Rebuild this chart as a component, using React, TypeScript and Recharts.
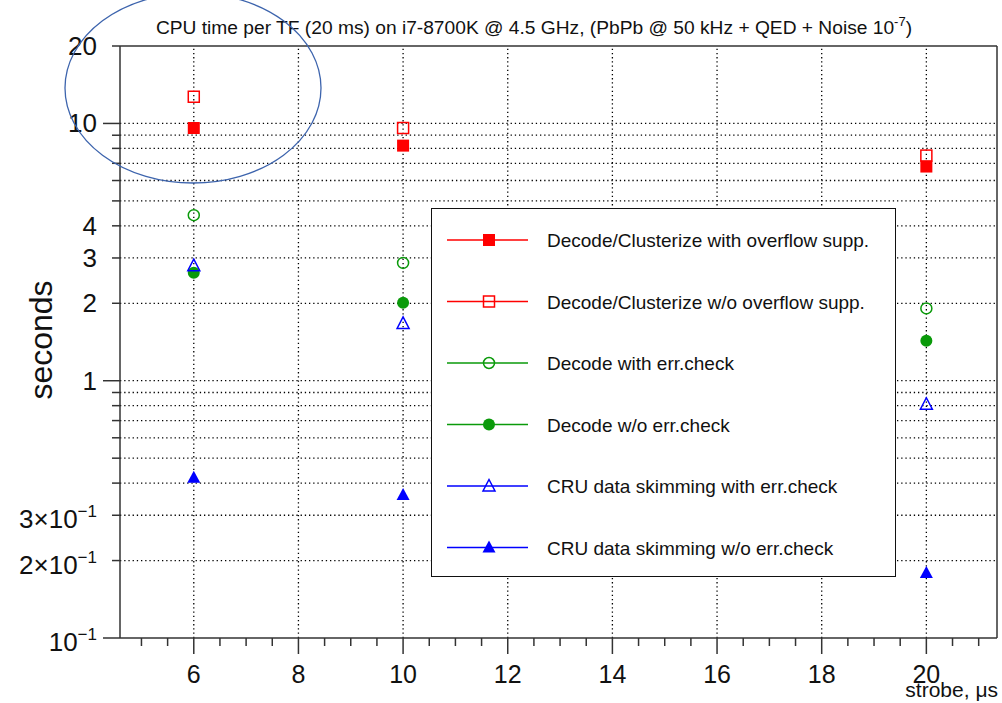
import React from "react";
import { ScatterChart, Scatter, XAxis, YAxis, ReferenceLine, Legend } from "recharts";

// strobe values (us) and CPU time (s)
const strobe = [6, 10, 20];
const clusterOvfl = [9.6, 8.2, 6.8];
const clusterNoOvfl = [12.7, 9.6, 7.5];
const decodeErr = [4.4, 2.87, 1.91];
const decodeNoErr = [2.63, 2.01, 1.43];
const cruErr = [2.8, 1.67, 0.81];
const cruNoErr = [0.42, 0.36, 0.179];

const xMajor = [6, 8, 10, 12, 14, 16, 18, 20];
const xTicks = [5, 5.5, 6, 6.5, 7, 7.5, 8, 8.5, 9, 9.5, 10, 10.5, 11, 11.5, 12, 12.5, 13, 13.5, 14, 14.5, 15, 15.5, 16, 16.5, 17, 17.5, 18, 18.5, 19, 19.5, 20, 20.5, 21];
const yTicks = [0.1, 0.2, 0.3, 0.4, 0.5, 0.6, 0.7, 0.8, 0.9, 1, 2, 3, 4, 5, 6, 7, 8, 9, 10, 20];
const yMajor = [0.1, 1, 10];
const yGrid = [0.2, 0.3, 0.4, 0.5, 0.6, 0.7, 0.8, 0.9, 1, 2, 3, 4, 5, 6, 7, 8, 9, 10];
const yLabels: Record<string, [string, string?]> = {
  "20": ["20"],
  "10": ["10"],
  "4": ["4"],
  "3": ["3"],
  "2": ["2"],
  "1": ["1"],
  "0.3": ["3\u00d710", "\u22121"],
  "0.2": ["2\u00d710", "\u22121"],
  "0.1": ["10", "\u22121"],
};

const RED = "#ff0000";
const GREEN = "#0a9a0a";
const BLUE = "#0000ff";
const AXIS = "#333";

const series = [
  { name: "Decode/Clusterize with overflow supp.", values: clusterOvfl, color: RED, kind: "square" },
  { name: "Decode/Clusterize w/o overflow supp.", values: clusterNoOvfl, color: RED, kind: "squareOpen" },
  { name: "Decode with err.check", values: decodeErr, color: GREEN, kind: "circleOpen" },
  { name: "Decode w/o err.check", values: decodeNoErr, color: GREEN, kind: "circle" },
  { name: "CRU data skimming with err.check", values: cruErr, color: BLUE, kind: "triangleOpen" },
  { name: "CRU data skimming w/o err.check", values: cruNoErr, color: BLUE, kind: "triangle" },
];

function Marker({ kind, color, cx, cy }: { kind: string; color: string; cx: number; cy: number }) {
  switch (kind) {
    case "square":
      return <rect x={cx - 6} y={cy - 6} width={12} height={12} fill={color} />;
    case "squareOpen":
      return <rect x={cx - 5.5} y={cy - 5.5} width={11} height={11} fill="none" stroke={color} strokeWidth={1.5} />;
    case "circle":
      return <circle cx={cx} cy={cy} r={6} fill={color} />;
    case "circleOpen":
      return <circle cx={cx} cy={cy} r={5.5} fill="none" stroke={color} strokeWidth={1.5} />;
    case "triangle":
      return <polygon points={`${cx},${cy - 7} ${cx - 6.5},${cy + 5} ${cx + 6.5},${cy + 5}`} fill={color} />;
    default:
      return (
        <polygon
          points={`${cx},${cy - 6.5} ${cx - 6},${cy + 5} ${cx + 6},${cy + 5}`}
          fill="none"
          stroke={color}
          strokeWidth={1.5}
        />
      );
  }
}

function XTick(props: any) {
  const { x, y, payload } = props;
  const major = xMajor.includes(payload.value);
  return (
    <g>
      <line x1={x} x2={x} y1={y} y2={y + (major ? 16 : 8)} stroke={AXIS} strokeWidth={1.5} />
      {major && (
        <text x={x} y={y + 45} textAnchor="middle" fontSize={25} fill="#111">
          {payload.value}
        </text>
      )}
    </g>
  );
}

function YTick(props: any) {
  const { x, y, payload } = props;
  const major = yMajor.includes(payload.value);
  const lab = yLabels[String(payload.value)];
  return (
    <g>
      <line x1={x - (major ? 17 : 8)} x2={x} y1={y} y2={y} stroke={AXIS} strokeWidth={1.5} />
      {lab && (
        <text x={x - 23} y={y + (lab[1] ? 13 : 9)} textAnchor="end" fontSize={26} fill="#111">
          {lab[0]}
          {lab[1] && (
            <tspan dy={-11} fontSize={17}>
              {lab[1]}
            </tspan>
          )}
        </text>
      )}
    </g>
  );
}

function LegendBox() {
  return (
    <div style={{ width: 463, height: 367, border: "1.5px solid #111", background: "#fff" }}>
      <svg width={463} height={367}>
        {series.map((s, i) => {
          const cy = 31 + i * 61.5;
          return (
            <g key={s.name}>
              <line x1={15} x2={96} y1={cy} y2={cy} stroke={s.color} strokeWidth={1.3} />
              <Marker kind={s.kind} color={s.color} cx={57} cy={cy} />
              <text x={115} y={cy + 7} fontSize={19} fill="#111">
                {s.name}
              </text>
            </g>
          );
        })}
      </svg>
    </div>
  );
}

export default function App() {
  return (
    <div
      style={{
        position: "absolute",
        left: 0,
        top: 0,
        width: 1002,
        height: 703,
        background: "#fff",
        fontFamily: '"Liberation Sans", Arial, Helvetica, sans-serif',
      }}
    >
      <ScatterChart width={1002} height={703} margin={{ top: 46, right: 5, bottom: 0, left: 0 }}>
        <XAxis
          type="number"
          dataKey="x"
          domain={[4.59, 21.35]}
          ticks={xTicks}
          interval={0}
          tickSize={0}
          tickMargin={0}
          tickLine={false}
          height={65}
          axisLine={{ stroke: AXIS, strokeWidth: 1.5 }}
          tick={<XTick />}
          allowDataOverflow
        />
        <YAxis
          type="number"
          dataKey="y"
          scale="log"
          domain={[0.1, 20]}
          ticks={yTicks}
          interval={0}
          tickSize={0}
          tickMargin={0}
          tickLine={false}
          width={120}
          axisLine={{ stroke: AXIS, strokeWidth: 1.5 }}
          tick={<YTick />}
          allowDataOverflow
        />
        {xMajor.map((v) => (
          <ReferenceLine key={"gx" + v} x={v} stroke="#000" strokeDasharray="1.3 2.9" strokeWidth={1.3} />
        ))}
        {yGrid.map((v) => (
          <ReferenceLine key={"gy" + v} y={v} stroke="#000" strokeDasharray="1.3 2.9" strokeWidth={1.3} />
        ))}
        <ReferenceLine y={20} stroke={AXIS} strokeWidth={1.5} />
        <ReferenceLine x={21.35} stroke={AXIS} strokeWidth={1.5} />
        {series.map((s) => (
          <Scatter
            key={s.name}
            name={s.name}
            data={strobe.map((x, i) => ({ x, y: s.values[i] }))}
            isAnimationActive={false}
            shape={(p: any) => <Marker kind={s.kind} color={s.color} cx={p.cx} cy={p.cy} />}
          />
        ))}
        <Legend
          layout="vertical"
          align="center"
          verticalAlign="middle"
          wrapperStyle={{ left: 431, top: 208, width: 466, height: 370 }}
          content={() => <LegendBox />}
        />
      </ScatterChart>
      <svg
        width={1002}
        height={703}
        style={{ position: "absolute", left: 0, top: 0, pointerEvents: "none" }}
      >
        <text x={534} y={34} textAnchor="middle" fontSize={19.2} fill="#111">
          CPU time per TF (20 ms) on i7-8700K @ 4.5 GHz, (PbPb @ 50 kHz + QED + Noise 10
          <tspan dy={-8} fontSize={13}>
            -7
          </tspan>
          <tspan dy={8}>)</tspan>
        </text>
        <text x={52} y={340} transform="rotate(-90 52 340)" textAnchor="middle" fontSize={32} fill="#111">
          seconds
        </text>
        <text x={998} y={697} textAnchor="end" fontSize={21} fill="#111">
          strobe, {"\u03bc"}s
        </text>
        <ellipse cx={193} cy={88} rx={128} ry={95} fill="none" stroke="#3d64ad" strokeWidth={1.3} />
      </svg>
    </div>
  );
}
